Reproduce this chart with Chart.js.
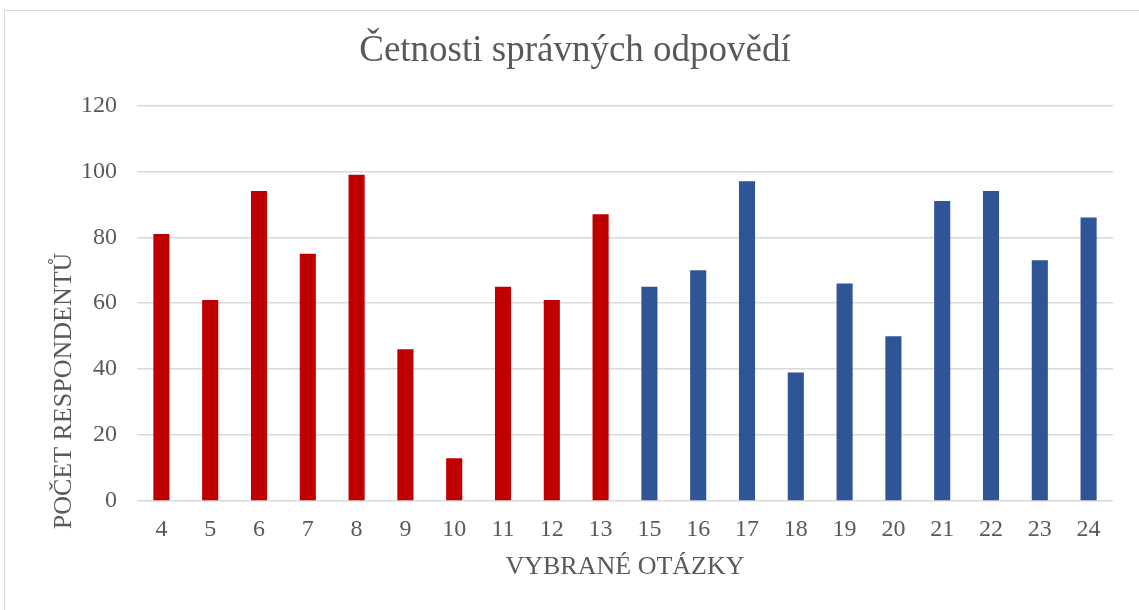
<!DOCTYPE html>
<html>
<head>
<meta charset="utf-8">
<script src="https://cdn.jsdelivr.net/npm/chart.js@4/dist/chart.umd.min.js"></script>
<style>
  html, body { margin: 0; padding: 0; background: #fff; }
  #wrap { position: relative; width: 1139px; height: 610px; overflow: hidden; }
  #frame { position: absolute; left: 4px; top: 10px; width: 1140px; height: 610px; border: 1px solid #d9d9d9; box-sizing: border-box; pointer-events: none; }
  canvas { position: absolute; left: 0; top: 0; }
</style>
</head>
<body>
<div id="wrap">
  <canvas id="c" width="1139" height="610"></canvas>
  <div id="frame"></div>
</div>
<script>
const categories = ["4","5","6","7","8","9","10","11","12","13","15","16","17","18","19","20","21","22","23","24"];
const values = [81,61,94,75,99,46,13,65,61,87,65,70,97,39,66,50,91,94,73,86];
const groups = ["A","A","A","A","A","A","A","A","A","A","B","B","B","B","B","B","B","B","B","B"];
const yTicks = [0,20,40,60,80,100,120];
const groupColors = { A: "#C00000", B: "#2F5597" };
const yAxisTitle = "POČET RESPONDENTŮ";
const xAxisTitle = "VYBRANÉ OTÁZKY";
const chartTitle = "Četnosti správných odpovědí";

const FONT = "'Liberation Serif', 'DejaVu Serif', serif";
const TXT = "#595959";

// y-axis title, placed as in the original (drawn as canvas text)
const yTitlePlugin = {
  id: "yTitle",
  afterDraw(chart) {
    const ctx = chart.ctx;
    const area = chart.chartArea;
    ctx.save();
    ctx.fillStyle = TXT;
    ctx.font = "26px " + FONT;
    ctx.textAlign = "center";
    ctx.textBaseline = "middle";
    ctx.translate(64, area.bottom - 110);
    ctx.rotate(-Math.PI / 2);
    ctx.fillText(yAxisTitle, 0, 0);
    ctx.restore();
  }
};

new Chart(document.getElementById("c"), {
  type: "bar",
  data: {
    labels: categories,
    datasets: [{
      label: chartTitle,
      data: values,
      backgroundColor: groups.map(g => groupColors[g]),
      borderWidth: 0,
      barPercentage: 0.33,
      categoryPercentage: 1.0
    }]
  },
  plugins: [yTitlePlugin],
  options: {
    responsive: false,
    animation: false,
    layout: { padding: { left: 37, right: 26, top: 15, bottom: 34 } },
    plugins: {
      legend: { display: false },
      tooltip: { enabled: false },
      title: {
        display: true,
        text: chartTitle,
        color: TXT,
        font: { family: FONT, size: 37, weight: "normal", lineHeight: 1.2 },
        padding: { top: 14, bottom: 32 }
      }
    },
    scales: {
      x: {
        grid: { display: false, drawTicks: false },
        border: { display: false },
        ticks: { color: TXT, font: { family: FONT, size: 24, lineHeight: 1.2 }, padding: 14, maxRotation: 0, autoSkip: false },
        title: { display: true, text: xAxisTitle, color: TXT, font: { family: FONT, size: 26, lineHeight: 0.7 }, padding: { top: 0, bottom: 0 } }
      },
      y: {
        min: 0,
        max: 120,
        afterBuildTicks: axis => { axis.ticks = yTicks.map(v => ({ value: v })); },
        afterFit: axis => { axis.width = 100; },
        grid: { color: "#d9d9d9", lineWidth: 1.5, drawTicks: false },
        border: { display: false },
        ticks: { color: TXT, font: { family: FONT, size: 24, lineHeight: 1.2 }, padding: 20 },
        title: { display: false }
      }
    }
  }
});
</script>
</body>
</html>
